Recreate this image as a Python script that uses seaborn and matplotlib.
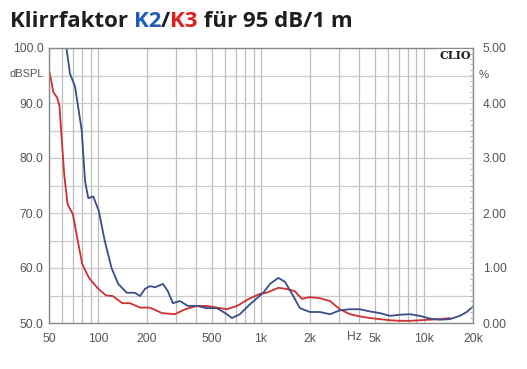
import numpy as np
import pandas as pd
import matplotlib
matplotlib.use("Agg")
import matplotlib.pyplot as plt
import matplotlib.ticker as mticker
import seaborn as sns

# ---- data ----
k2_freq = [64, 67.3, 72.2, 75.3, 79.4, 83.2, 87.1, 93.4, 101, 110, 121, 133, 150, 168, 181,
           194, 208, 224, 250, 268, 288, 318, 356, 405, 466, 537, 618, 663, 742, 855,
           1032, 1135, 1276, 1403, 1577, 1733, 1996, 2300, 2648, 3049, 3514, 4045, 4657,
           5369, 6181, 7115, 8200, 9440, 10870, 12530, 14420, 16600, 18300, 20000]
k2_db = [100.0, 95.3, 93.0, 89.5, 85.0, 75.8, 72.7, 73.0, 70.4, 64.9, 60.0, 57.1, 55.5, 55.5, 54.9,
         56.2, 56.7, 56.5, 57.1, 55.8, 53.6, 54.0, 53.1, 53.1, 52.7, 52.7, 51.6, 50.9, 51.6, 53.4,
         55.5, 57.1, 58.2, 57.5, 54.9, 52.7, 52.0, 52.0, 51.6, 52.3, 52.5, 52.5, 52.1,
         51.8, 51.3, 51.5, 51.6, 51.3, 50.8, 50.6, 50.7, 51.3, 52.0, 53.0]

k3_freq = [50, 52, 53.1, 56, 58, 59, 62, 65, 70, 75, 80, 88, 99, 112, 123, 141, 157, 181,
           208, 247, 296, 342, 405, 466, 537, 618, 712, 742, 832, 985, 1080, 1190, 1276,
           1430, 1610, 1780, 1996, 2300, 2648, 3049, 3514, 4045, 4657, 5369, 6181, 7115,
           8200, 9440, 10870, 12530, 14420]
k3_db = [96.0, 93.5, 92.0, 91.0, 89.5, 86.0, 77.0, 71.6, 69.8, 65.0, 60.7, 58.2, 56.4, 55.0, 54.9,
         53.6, 53.6, 52.8, 52.8, 51.8, 51.6, 52.5, 53.1, 53.1, 52.8, 52.5, 53.1, 53.4, 54.3,
         55.3, 55.5, 56.0, 56.4, 56.2, 55.8, 54.4, 54.7, 54.5, 54.0, 52.5, 51.6, 51.2, 50.9,
         50.7, 50.5, 50.4, 50.4, 50.5, 50.6, 50.7, 50.9]

x_ticks = [50, 100, 200, 500, 1000, 2000, 5000, 10000, 20000]
x_labels = ["50", "100", "200", "500", "1k", "2k", "5k", "10k", "20k"]
y_ticks = [50, 60, 70, 80, 90, 100]
pct_ticks = [0, 1, 2, 3, 4, 5]

# ---- style ----
sns.set_theme(style="white")
plt.rcParams["font.family"] = ["Liberation Sans", "DejaVu Sans"]

BLUE = "#3a4d88"
RED = "#cf2f2f"
GRID = "#bdbdbd"
TICKC = "#555555"

fig = plt.figure(figsize=(5.27, 3.69), dpi=100)
ax = fig.add_axes([49 / 527, 1 - 323 / 369, 424 / 527, 275 / 369])

sns.lineplot(x=k3_freq, y=k3_db, ax=ax, color=RED, lw=1.3, estimator=None, sort=False)
sns.lineplot(x=k2_freq, y=k2_db, ax=ax, color=BLUE, lw=1.3, estimator=None, sort=False)

ax.set_xscale("log")
ax.set_xlim(50, 20000)
ax.set_ylim(50, 100)

# vertical grid at 1-2-...-9 per decade
minor_x = []
for dec in [10, 100, 1000, 10000]:
    for m in range(1, 10):
        v = m * dec
        if 50 <= v <= 20000:
            minor_x.append(v)
ax.xaxis.set_major_locator(mticker.FixedLocator(x_ticks))
ax.xaxis.set_major_formatter(mticker.FixedFormatter(x_labels))
ax.xaxis.set_minor_locator(mticker.FixedLocator(minor_x))
ax.xaxis.set_minor_formatter(mticker.NullFormatter())
ax.yaxis.set_major_locator(mticker.FixedLocator(y_ticks))
ax.yaxis.set_major_formatter(mticker.FormatStrFormatter("%.1f"))
ax.yaxis.set_minor_locator(mticker.MultipleLocator(5))

ax.grid(which="both", axis="x", color=GRID, lw=0.9)
ax.grid(which="both", axis="y", color="#cccccc", lw=0.9)
ax.set_axisbelow(True)

ax.tick_params(axis="x", which="both", length=0, pad=7, labelsize=8.7, labelcolor=TICKC)
ax.tick_params(axis="y", which="major", length=0, pad=4, labelsize=8.7, labelcolor=TICKC)
ax.tick_params(axis="y", which="minor", length=0)

for s in ax.spines.values():
    s.set_color("#8a8a8a")
    s.set_linewidth(1.0)

ax.set_xlabel("")
ax.set_ylabel("")

# right axis (%)
ax2 = ax.twinx()
ax2.set_ylim(0, 5)
ax2.yaxis.set_major_locator(mticker.FixedLocator(pct_ticks))
ax2.yaxis.set_major_formatter(mticker.FormatStrFormatter("%.2f"))
ax2.yaxis.set_minor_locator(mticker.MultipleLocator(0.1))
ax2.tick_params(axis="y", which="major", length=0, pad=7, labelsize=8.7, labelcolor=TICKC)
ax2.tick_params(axis="y", which="minor", length=2.5, direction="in", color="#aaaaaa", width=0.6)
for s in ax2.spines.values():
    s.set_visible(False)
ax2.grid(False)

# unit labels
ax.text(-0.012, 95.2, "dBSPL", transform=ax.get_yaxis_transform(), ha="right", va="center",
        fontsize=8.0, color=TICKC)
ax2.text(1.014, 4.5, "%", transform=ax2.get_yaxis_transform(), ha="left", va="center",
         fontsize=8.2, color=TICKC)
ax.text(3750, -0.028, "Hz", transform=ax.get_xaxis_transform(), ha="center", va="top",
        fontsize=8.7, color=TICKC)

# CLIO mark
ax.text(0.995, 0.992, "CLIO", transform=ax.transAxes, ha="right", va="top",
        fontsize=8, fontweight="bold", family="DejaVu Serif", color="#222222",
        bbox=dict(facecolor="white", edgecolor="none", pad=0.6))

# multi-colored title
parts = [("Klirrfaktor ", "#1e1e1e"), ("K2", "#1f5cb8"), ("/", "#1e1e1e"),
         ("K3", "#e0201e"), (" für 95 dB/1 m", "#1e1e1e")]
renderer = fig.canvas.get_renderer()
xpix = 10
for txt, col in parts:
    t = fig.text(xpix / 527, 1 - 27 / 369, txt, color=col, fontsize=16, fontweight="bold",
                 family=["Open Sans", "DejaVu Sans"], ha="left", va="baseline")
    bb = t.get_window_extent(renderer=renderer)
    xpix += bb.width

fig.savefig("out.png", dpi=100, facecolor="white")
